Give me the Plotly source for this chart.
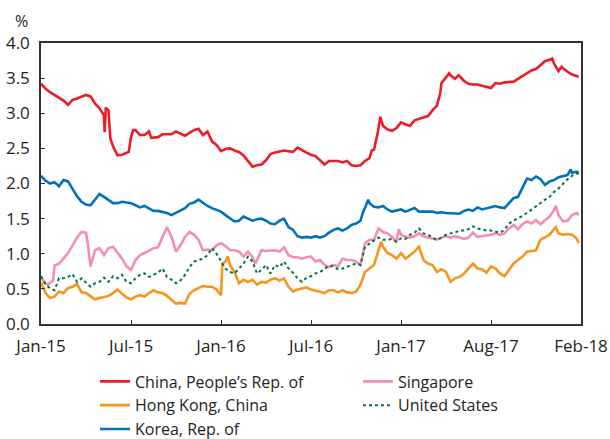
import plotly.graph_objects as go

# Observation index (trading-day based, evenly spaced axis) and yields (%)
tick_pos = [0, 20, 40, 60, 80, 100, 120]
tick_labels = ["Jan-15", "Jul-15", "Jan-16", "Jul-16", "Jan-17", "Aug-17", "Feb-18"]
y_ticks = [0.0, 0.5, 1.0, 1.5, 2.0, 2.5, 3.0, 3.5, 4.0]

china_x = [0, 1, 2, 3, 4, 5, 6, 7, 8, 9, 10, 11, 12, 13, 14, 14.15, 14.4, 15, 15.4, 16, 17, 18, 19, 19.5,
           20, 20.5, 21, 22, 23, 24, 24.5, 25, 26, 27, 28, 29, 30, 31, 32, 33, 34, 35, 36, 37, 38, 39,
           40, 41, 42, 43, 44, 45, 46, 47, 48, 49, 50, 51, 52, 53, 54, 55, 56, 57, 58, 59, 60, 61, 62,
           63, 64, 65, 66, 67, 68, 69, 70, 71, 72, 73, 73.5, 74, 74.8, 75.4, 75.9, 76, 77, 78, 79, 80,
           81, 82, 83, 84, 85, 86, 87, 88, 88.7, 89, 90, 90.7, 91, 92, 92.8, 93, 94, 95, 96, 97, 98, 99,
           100, 101, 102, 103, 104, 105, 106, 107, 108, 109, 110, 111, 112, 113, 113.6, 114, 115, 115.7,
           116, 117, 118, 119.5]
china_y = [3.42, 3.35, 3.30, 3.26, 3.22, 3.18, 3.12, 3.19, 3.21, 3.23, 3.26, 3.24, 3.14, 3.07, 2.97, 2.73,
           3.08, 3.04, 2.64, 2.53, 2.40, 2.41, 2.44, 2.45, 2.66, 2.76, 2.76, 2.69, 2.69, 2.74, 2.65, 2.65,
           2.66, 2.70, 2.70, 2.70, 2.74, 2.71, 2.68, 2.72, 2.76, 2.78, 2.69, 2.74, 2.60, 2.55, 2.46, 2.49,
           2.50, 2.47, 2.45, 2.40, 2.32, 2.24, 2.26, 2.27, 2.33, 2.42, 2.44, 2.46, 2.47, 2.46, 2.45, 2.51,
           2.47, 2.44, 2.41, 2.39, 2.33, 2.27, 2.32, 2.32, 2.32, 2.30, 2.32, 2.26, 2.25, 2.26, 2.32, 2.36,
           2.47, 2.48, 2.71, 2.95, 2.85, 2.82, 2.77, 2.75, 2.79, 2.87, 2.84, 2.82, 2.90, 2.92, 2.95, 2.96,
           3.04, 3.11, 3.28, 3.43, 3.51, 3.57, 3.54, 3.49, 3.54, 3.53, 3.46, 3.42, 3.41, 3.41, 3.39, 3.37,
           3.36, 3.43, 3.42, 3.44, 3.45, 3.45, 3.49, 3.53, 3.57, 3.61, 3.63, 3.68, 3.74, 3.76, 3.78, 3.71,
           3.60, 3.66, 3.64, 3.59, 3.55, 3.52]

korea_x = list(range(0, 72)) + [71.6, 72, 72.7] + list(range(73, 118)) + [117.7, 118, 119, 119.5]
korea_x = sorted(korea_x)
korea_y = [2.11, 2.04, 2.00, 2.02, 1.96, 2.05, 2.03, 1.93, 1.82, 1.74, 1.70, 1.69, 1.77, 1.85, 1.81, 1.77,
           1.72, 1.72, 1.74, 1.73, 1.72, 1.69, 1.66, 1.68, 1.65, 1.61, 1.61, 1.60, 1.58, 1.55, 1.58, 1.61,
           1.65, 1.71, 1.73, 1.77, 1.72, 1.68, 1.65, 1.62, 1.60, 1.55, 1.50, 1.46, 1.47, 1.53, 1.50, 1.47,
           1.49, 1.50, 1.47, 1.43, 1.42, 1.47, 1.50, 1.38, 1.34, 1.25, 1.23, 1.24, 1.23, 1.25, 1.23, 1.25,
           1.30, 1.34, 1.36, 1.33, 1.36, 1.41, 1.43, 1.47, 1.60, 1.65, 1.77, 1.72, 1.67, 1.66, 1.68, 1.63,
           1.60, 1.62, 1.63, 1.60, 1.62, 1.65, 1.60, 1.60, 1.60, 1.60, 1.58, 1.59, 1.58, 1.58, 1.58, 1.57,
           1.61, 1.63, 1.61, 1.66, 1.63, 1.65, 1.66, 1.68, 1.66, 1.65, 1.72, 1.79, 1.81, 1.95, 2.07, 2.05,
           2.10, 2.06, 1.98, 2.03, 2.05, 2.09, 2.10, 2.12, 2.20, 2.15, 2.17, 2.15]

singapore_x = [0, 1, 1.5, 2, 2.7, 3, 4, 5, 6, 7, 8, 9, 10, 10.5, 11, 12, 13, 14, 15, 16, 17, 18, 19, 20, 21,
               22, 23, 24, 25, 26, 27, 28, 29, 30, 31, 32, 33, 34, 35, 36, 37, 38, 39, 40, 41, 42, 43, 44,
               45, 46, 47, 47.6, 48, 49, 50, 51, 52, 53, 54, 55, 56, 57, 58, 59, 60, 61, 62, 63, 64, 65,
               66, 67, 68, 69, 70, 71, 72, 73, 74, 75, 76, 77, 78, 79, 79.5, 80, 81, 82, 83, 84, 85, 86,
               87, 88, 89, 90, 91, 92, 93, 94, 95, 96, 97, 98, 99, 100, 101, 102, 103, 104, 105, 106, 107,
               108, 109, 110, 111, 112, 113, 114, 114.4, 115, 116, 117, 118, 119, 119.5]
singapore_y = [0.67, 0.58, 0.56, 0.58, 0.62, 0.83, 0.86, 0.93, 1.01, 1.12, 1.23, 1.31, 1.30, 1.10, 0.82,
               1.05, 1.08, 0.98, 1.08, 1.10, 1.01, 0.93, 0.82, 0.77, 0.91, 0.98, 1.01, 1.05, 1.08, 1.09,
               1.24, 1.38, 1.24, 1.03, 1.12, 1.24, 1.31, 1.27, 1.20, 1.05, 1.06, 1.05, 1.12, 1.15, 1.11,
               1.05, 1.05, 1.03, 0.96, 1.03, 0.95, 0.86, 0.91, 1.05, 1.04, 1.05, 1.05, 1.03, 1.09, 0.98,
               0.95, 0.95, 0.93, 0.95, 0.96, 0.89, 0.91, 0.84, 0.81, 0.84, 0.82, 0.93, 0.91, 0.91, 0.89,
               0.84, 1.15, 1.20, 1.20, 1.36, 1.31, 1.29, 1.24, 1.17, 1.35, 1.27, 1.24, 1.23, 1.25, 1.29,
               1.25, 1.23, 1.21, 1.20, 1.23, 1.25, 1.23, 1.25, 1.23, 1.21, 1.23, 1.30, 1.24, 1.25, 1.25,
               1.27, 1.29, 1.27, 1.29, 1.36, 1.41, 1.35, 1.42, 1.46, 1.43, 1.48, 1.42, 1.48, 1.53, 1.62,
               1.68, 1.55, 1.46, 1.47, 1.55, 1.58, 1.55]

hongkong_x = list(range(0, 41)) + [40.3, 41, 41.5] + list(range(42, 76)) + [75.6] + list(range(76, 115)) + \
             [114.4, 115, 116, 117, 118, 119, 119.5]
hongkong_x = sorted(hongkong_x)
hongkong_y = [0.59, 0.44, 0.37, 0.39, 0.46, 0.44, 0.51, 0.53, 0.57, 0.45, 0.44, 0.40, 0.35, 0.37, 0.39, 0.40,
              0.44, 0.49, 0.43, 0.38, 0.35, 0.39, 0.41, 0.39, 0.44, 0.48, 0.45, 0.44, 0.40, 0.35, 0.29, 0.30,
              0.29, 0.43, 0.48, 0.51, 0.54, 0.53, 0.53, 0.49, 0.41, 0.86, 0.89, 0.96, 0.84, 0.74, 0.58, 0.63,
              0.60, 0.63, 0.56, 0.60, 0.59, 0.63, 0.65, 0.62, 0.65, 0.53, 0.46, 0.49, 0.51, 0.52, 0.49, 0.48,
              0.46, 0.44, 0.48, 0.48, 0.45, 0.48, 0.45, 0.44, 0.46, 0.56, 0.74, 0.79, 0.84, 1.05, 1.17, 1.10,
              1.01, 0.98, 0.93, 1.01, 0.93, 0.98, 1.03, 1.10, 0.91, 0.86, 0.84, 0.74, 0.78, 0.74, 0.60, 0.65,
              0.67, 0.72, 0.79, 0.86, 0.79, 0.78, 0.73, 0.82, 0.79, 0.72, 0.68, 0.77, 0.86, 0.91, 0.96, 1.03,
              1.04, 1.05, 1.20, 1.24, 1.27, 1.35, 1.38, 1.29, 1.27, 1.28, 1.27, 1.22, 1.15]

us_x = list(range(0, 120)) + [119.5]
us_y = [0.68, 0.56, 0.51, 0.48, 0.65, 0.65, 0.67, 0.71, 0.60, 0.65, 0.59, 0.53, 0.58, 0.60, 0.66, 0.60,
        0.68, 0.65, 0.70, 0.60, 0.58, 0.65, 0.70, 0.72, 0.67, 0.70, 0.73, 0.79, 0.67, 0.63, 0.58, 0.62,
        0.70, 0.81, 0.89, 0.91, 0.93, 0.98, 1.08, 1.00, 0.89, 0.79, 0.74, 0.72, 0.79, 0.86, 0.96, 0.89,
        0.72, 0.77, 0.84, 0.72, 0.84, 0.81, 0.89, 0.79, 0.73, 0.65, 0.60, 0.66, 0.68, 0.72, 0.74, 0.79,
        0.83, 0.82, 0.78, 0.79, 0.82, 0.84, 0.86, 0.84, 1.10, 1.15, 1.19, 1.23, 1.20, 1.20, 1.21, 1.17,
        1.22, 1.21, 1.27, 1.30, 1.36, 1.29, 1.27, 1.23, 1.20, 1.23, 1.27, 1.29, 1.30, 1.33, 1.33, 1.35,
        1.39, 1.36, 1.34, 1.33, 1.33, 1.31, 1.30, 1.34, 1.43, 1.47, 1.50, 1.54, 1.58, 1.63, 1.68, 1.72,
        1.77, 1.81, 1.88, 1.93, 2.00, 2.06, 2.11, 2.14, 2.14]

# (name, x, y, colour, dash, width, legend column)
series = [
    ("China, People\u2019s Rep. of", china_x, china_y, "#ED1C24", "solid", 2.6, "legend"),
    ("Hong Kong, China", hongkong_x, hongkong_y, "#F7941D", "solid", 2.6, "legend"),
    ("Korea, Rep. of", korea_x, korea_y, "#0072BC", "solid", 2.6, "legend"),
    ("Singapore", singapore_x, singapore_y, "#F38DB5", "solid", 2.6, "legend2"),
    ("United States", us_x, us_y, "#00773A", "dot", 2.0, "legend2"),
]

fig = go.Figure()
for name, xs, ys, color, dash, w, leg in series:
    fig.add_trace(go.Scatter(x=xs, y=ys, mode="lines", name=name, legend=leg,
                             line=dict(color=color, width=w, dash=dash)))

font_family = "'Open Sans', Lato, sans-serif"
text_color = "#231F20"
fs = 17
lfs = 16

legend_common = dict(orientation="v", xanchor="left", yanchor="top", y=-0.144,
                     traceorder="normal", font=dict(size=lfs, color=text_color),
                     itemwidth=30, tracegroupgap=0, bgcolor="rgba(0,0,0,0)")

fig.update_layout(
    width=610, height=439,
    margin=dict(l=41, r=29, t=43, b=115, autoexpand=False),
    paper_bgcolor="white", plot_bgcolor="white",
    font=dict(family=font_family, size=fs, color=text_color),
    showlegend=True,
    legend=dict(x=0.1, **legend_common),
    legend2=dict(x=0.587, **legend_common),
    xaxis=dict(range=[0, 120], tickmode="array", tickvals=tick_pos, ticktext=tick_labels,
               showgrid=False, zeroline=False, showline=True, linecolor="#333333", linewidth=1.5,
               mirror=True, ticks="inside", ticklen=4, tickcolor="#333333", ticklabelstandoff=6,
               automargin=False),
    yaxis=dict(range=[0, 4], tickmode="array", tickvals=y_ticks,
               ticktext=[f"{v:.1f}" for v in y_ticks],
               showgrid=False, zeroline=False, showline=True, linecolor="#333333", linewidth=1.5,
               mirror=True, ticks="inside", ticklen=4, tickcolor="#333333", ticklabelstandoff=6,
               automargin=False),
    annotations=[dict(text="%", x=-0.037, y=1.080, xref="paper", yref="paper",
                      showarrow=False, xanchor="center", yanchor="middle",
                      font=dict(size=16, color=text_color))],
)

fig.write_html("out.html", config={"displayModeBar": False},
               post_script="document.body.style.margin='0';document.body.style.overflow='hidden';")
